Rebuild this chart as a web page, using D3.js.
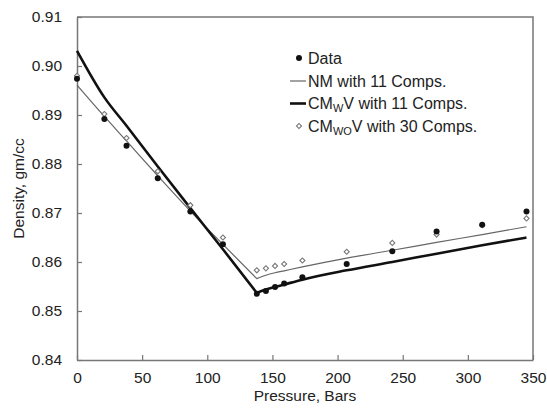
<!DOCTYPE html>
<html>
<head>
<meta charset="utf-8">
<script src="https://cdn.jsdelivr.net/npm/d3@7"></script>
<style>
  body { margin: 0; background: #fff; }
  text { font-family: "Liberation Sans", Arial, sans-serif; fill: #222; }
</style>
</head>
<body>
<svg id="myGraph" width="547" height="409"></svg>
<script>
// pressure, bars
let pressure = [0, 21, 38, 62, 87, 112, 138, 145, 152, 159, 173, 207, 242, 276, 311, 345];
// measured density
let dataVals = [0.8974, 0.8892, 0.8837, 0.8771, 0.8703, 0.8636, 0.8535, 0.8541, 0.8549, 0.8556, 0.8569, 0.8596, 0.8622, 0.8662, 0.8676, 0.8703];
// NM with 11 comps (thin line)
let nmVals = [0.8961, 0.8897, 0.8847, 0.8776, 0.8704, 0.8636, 0.8566, 0.8573, 0.8578, 0.8582, 0.8590, 0.8608, 0.8624, 0.8640, 0.8656, 0.8672];
// CMwV with 11 comps (thick line)
let cmwVals = [0.9031, 0.8936, 0.8878, 0.8795, 0.8710, 0.8626, 0.8537, 0.8544, 0.8549, 0.8554, 0.8564, 0.8583, 0.8600, 0.8617, 0.8634, 0.8650];
// CMwoV with 30 comps (open markers)
let cmwoVals = [0.8980, 0.8902, 0.8853, 0.8785, 0.8716, 0.8650, 0.8583, 0.8587, 0.8592, 0.8596, 0.8603, 0.8621, 0.8639, 0.8656, 0.8675, 0.8689];

let xTicks = [0, 50, 100, 150, 200, 250, 300, 350];
let yTicks = [0.84, 0.85, 0.86, 0.87, 0.88, 0.89, 0.90, 0.91];

let svg = d3.select("#myGraph");
let mLeft = 77, mRight = 533, mTop = 17, mBottom = 360;

let xScale = d3.scaleLinear().domain([0, 350]).range([mLeft, mRight]);
let yScale = d3.scaleLinear().domain([0.84, 0.91]).range([mBottom, mTop]);

/* 軸 */
let xAxis = svg.append("g")
  .attr("transform", "translate(0," + mBottom + ")")
  .call(d3.axisBottom(xScale).tickValues(xTicks).tickSizeInner(-5).tickSizeOuter(0).tickPadding(12)
    .tickFormat(d3.format("d")));
let yAxis = svg.append("g")
  .attr("transform", "translate(" + mLeft + ",0)")
  .call(d3.axisLeft(yScale).tickValues(yTicks).tickSizeInner(-5).tickSizeOuter(0).tickPadding(15)
    .tickFormat(d3.format(".2f")));

[xAxis, yAxis].forEach(function(g){
  g.select(".domain").attr("stroke", "#777").attr("stroke-width", 1.5);
  g.selectAll(".tick line").attr("stroke", "#777").attr("stroke-width", 1.2);
  g.selectAll(".tick text").attr("font-size", "15.5px").attr("fill", "#222")
    .style("font-family", "'Liberation Sans', Arial, sans-serif");
});

// 上と右の枠
svg.append("path")
  .attr("d", "M" + mLeft + "," + mTop + "H" + mRight + "V" + mBottom)
  .attr("fill", "none")
  .attr("stroke", "#777")
  .attr("stroke-width", 1.5);

// axis titles
svg.append("text")
  .attr("x", (mLeft + mRight) / 2)
  .attr("y", 401)
  .attr("text-anchor", "middle")
  .attr("font-size", "15.5px")
  .text("Pressure, Bars");
svg.append("text")
  .attr("transform", "translate(24," + ((mTop + mBottom) / 2) + ") rotate(-90)")
  .attr("text-anchor", "middle")
  .attr("font-size", "15.5px")
  .text("Density, gm/cc");

/* 線 : smooth on each side of the bubble point, sharp corner at 138 bar */
let breakIdx = 6;
let line = function(vals){
  let pts = vals.map(function(d, i){ return [pressure[i], d]; });
  let gen = d3.line()
    .x(function(p){ return xScale(p[0]); })
    .y(function(p){ return yScale(p[1]); })
    .curve(d3.curveMonotoneX);
  return gen(pts.slice(0, breakIdx + 1)) + gen(pts.slice(breakIdx)).replace(/^M[^C L]*/, "");
};

svg.append("path")
  .attr("d", line(nmVals))
  .attr("fill", "none")
  .attr("stroke", "#666")
  .attr("stroke-width", 1.2)
  .attr("stroke-linejoin", "round");

svg.append("path")
  .attr("d", line(cmwVals))
  .attr("fill", "none")
  .attr("stroke", "#111")
  .attr("stroke-width", 2.6)
  .attr("stroke-linejoin", "round");

let diamond = d3.symbol().type(d3.symbolSquare).size(13);

svg.append("g").selectAll("path")
  .data(cmwoVals)
  .enter()
  .append("path")
  .attr("d", diamond)
  .attr("transform", function(d, i){
    return "translate(" + xScale(pressure[i]) + "," + yScale(d) + ") rotate(45)";
  })
  .attr("fill", "#fff")
  .attr("stroke", "#777")
  .attr("stroke-width", 1.1);

svg.append("g").selectAll("circle")
  .data(dataVals)
  .enter()
  .append("circle")
  .attr("cx", function(d, i){ return xScale(pressure[i]); })
  .attr("cy", function(d){ return yScale(d); })
  .attr("r", 3)
  .attr("fill", "#111");

/* 凡例 */
let lg = svg.append("g");
let lx = 290, ltx = 308;
let rows = [58, 81, 103.5, 126];

lg.append("circle").attr("cx", 299).attr("cy", rows[0]).attr("r", 3).attr("fill", "#111");
lg.append("line").attr("x1", lx).attr("x2", 306).attr("y1", rows[1]).attr("y2", rows[1])
  .attr("stroke", "#666").attr("stroke-width", 1.2);
lg.append("line").attr("x1", lx).attr("x2", 306).attr("y1", rows[2]).attr("y2", rows[2])
  .attr("stroke", "#111").attr("stroke-width", 2.6);
lg.append("path").attr("d", diamond)
  .attr("transform", "translate(299," + rows[3] + ") rotate(45)")
  .attr("fill", "#fff").attr("stroke", "#777").attr("stroke-width", 1.1);

lg.append("text").attr("x", ltx).attr("y", rows[0] + 5.5).attr("font-size", "16px").text("Data");
lg.append("text").attr("x", ltx).attr("y", rows[1] + 5.5).attr("font-size", "16px").text("NM with 11 Comps.");
let t2 = lg.append("text").attr("x", ltx).attr("y", rows[2] + 5.5).attr("font-size", "16px");
t2.append("tspan").text("CM");
t2.append("tspan").attr("font-size", "11px").attr("dy", 3).text("W");
t2.append("tspan").attr("dy", -3).text("V with 11 Comps.");
let t3 = lg.append("text").attr("x", ltx).attr("y", rows[3] + 5.5).attr("font-size", "16px");
t3.append("tspan").text("CM");
t3.append("tspan").attr("font-size", "11px").attr("dy", 3).text("WO");
t3.append("tspan").attr("dy", -3).text("V with 30 Comps.");
</script>
</body>
</html>
